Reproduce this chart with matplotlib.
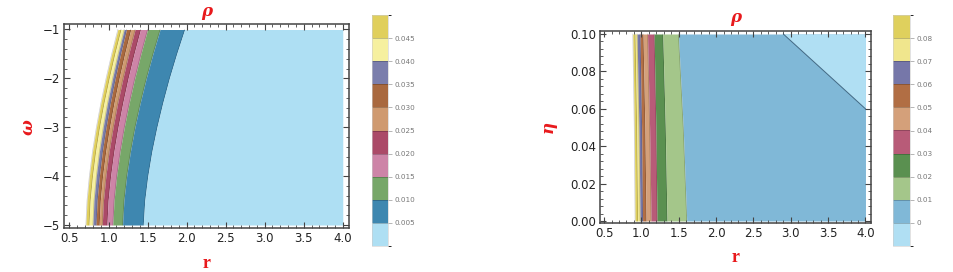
import matplotlib
matplotlib.use("Agg")
import matplotlib.pyplot as plt
from matplotlib.colors import ListedColormap, BoundaryNorm
from matplotlib.colorbar import ColorbarBase
from matplotlib.ticker import MultipleLocator, AutoMinorLocator

# ---- left panel: rho(r, omega) ----
omega = [-5.0, -4.5, -4.0, -3.5, -3.0, -2.5, -2.0, -1.5, -1.0]
levels_l = [0.0, 0.005, 0.010, 0.015, 0.020, 0.025, 0.030, 0.035, 0.040, 0.045, 0.050]
# r where rho crosses each level, outermost (0.050) first, sampled at omega
r_edges_l = [
    [0.710, 0.725, 0.755, 0.795, 0.845, 0.903, 0.969, 1.041, 1.120],  # 0.050
    [0.750, 0.765, 0.795, 0.835, 0.885, 0.943, 1.009, 1.081, 1.160],  # 0.045
    [0.800, 0.814, 0.844, 0.883, 0.932, 0.988, 1.052, 1.123, 1.200],  # 0.040
    [0.840, 0.854, 0.883, 0.921, 0.969, 1.024, 1.086, 1.155, 1.230],  # 0.035
    [0.880, 0.895, 0.924, 0.964, 1.014, 1.071, 1.136, 1.207, 1.285],  # 0.030
    [0.920, 0.935, 0.966, 1.007, 1.059, 1.118, 1.185, 1.259, 1.340],  # 0.025
    [0.980, 0.995, 1.027, 1.069, 1.122, 1.183, 1.251, 1.327, 1.410],  # 0.020
    [1.055, 1.071, 1.104, 1.148, 1.202, 1.265, 1.336, 1.415, 1.500],  # 0.015
    [1.180, 1.197, 1.232, 1.280, 1.338, 1.406, 1.483, 1.568, 1.660],  # 0.010
    [1.445, 1.464, 1.503, 1.555, 1.620, 1.695, 1.779, 1.873, 1.975],  # 0.005
]
colors_l = ["#aedff3", "#3e87b0", "#77a769", "#cd84a7", "#ab4a68",
            "#cf9a70", "#a9693f", "#7b7eac", "#f6f09f", "#e0cf5c"]

# ---- right panel: rho(r, eta) ----
eta = [0.0, 0.05, 0.10]
levels_r = [-0.01, 0.0, 0.01, 0.02, 0.03, 0.04, 0.05, 0.06, 0.07, 0.08, 0.09]
r_edges_r = [
    [0.916, 0.905, 0.885],  # 0.09
    [0.950, 0.937, 0.915],  # 0.08
    [0.983, 0.967, 0.942],  # 0.07
    [1.016, 1.003, 0.982],  # 0.06
    [1.063, 1.047, 1.022],  # 0.05
    [1.130, 1.110, 1.082],  # 0.04
    [1.210, 1.194, 1.170],  # 0.03
    [1.343, 1.320, 1.286],  # 0.02
    [1.607, 1.560, 1.495],  # 0.01
]
r_zero = [2.9, 4.0]      # rho = 0 contour
eta_zero = [0.10, 0.06]
colors_r = ["#b0dff3", "#80b8d7", "#a4c68a", "#5a9050", "#b85b78",
            "#d4a07a", "#b16e44", "#7677a9", "#f0e68d", "#dfd05d"]

r_max = 4.0
red = "#e8191c"
W, H = 954, 272

fig = plt.figure(figsize=(W / 100, H / 100), dpi=100)

def box(x0, x1, y0, y1):
    return [x0 / W, 1 - y1 / H, (x1 - x0) / W, (y1 - y0) / H]

ax1 = fig.add_axes(box(64, 349, 24, 228))
ax2 = fig.add_axes(box(600, 871, 31, 223))
cax1 = fig.add_axes(box(372, 388, 15, 246))
cax2 = fig.add_axes(box(893, 910, 15, 246))

# left fills
n = len(r_edges_l)
for k in range(n - 1):
    ax1.fill_betweenx(omega, r_edges_l[k], r_edges_l[k + 1], color=colors_l[9 - k], lw=0)
ax1.fill_betweenx(omega, r_edges_l[-1], [r_max] * len(omega), color=colors_l[0], lw=0)
for e in r_edges_l:
    ax1.plot(e, omega, color="k", alpha=0.2, lw=0.5)

# right fills
n = len(r_edges_r)
for k in range(n - 1):
    ax2.fill_betweenx(eta, r_edges_r[k], r_edges_r[k + 1], color=colors_r[9 - k], lw=0)
ax2.fill_betweenx(eta, r_edges_r[-1], [r_max] * len(eta), color=colors_r[1], lw=0)
ax2.fill_between(r_zero, eta_zero, [max(eta)] * len(r_zero), color=colors_r[0], lw=0)
for e in r_edges_r:
    ax2.plot(e, eta, color="k", alpha=0.2, lw=0.5)
ax2.plot(r_zero, eta_zero, color="#1f3f5a", alpha=0.7, lw=0.7)

ax1.set_xlim(0.43, 4.08)
ax1.set_ylim(-5.061, -0.8875)
ax2.set_xlim(0.446, 4.074)
ax2.set_ylim(-0.00107, 0.1016)

for ax in (ax1, ax2):
    ax.xaxis.set_major_locator(MultipleLocator(0.5))
    ax.xaxis.set_minor_locator(AutoMinorLocator(5))
    ax.yaxis.set_minor_locator(AutoMinorLocator(5))
    ax.tick_params(which="both", direction="in", top=True, right=True,
                   color="#444444", labelsize=8.5, labelcolor="#222222", pad=3)
    ax.tick_params(which="major", length=4, width=0.8)
    ax.tick_params(which="minor", length=2, width=0.6)
    for s in ax.spines.values():
        s.set_color("#444444")
        s.set_linewidth(1.1)
ax1.yaxis.set_major_locator(MultipleLocator(1))
ax1.xaxis.set_major_formatter(plt.FuncFormatter(lambda v, p: f"{v:.1f}"))
ax1.yaxis.set_major_formatter(plt.FuncFormatter(lambda v, p: f"\u2212{abs(v):.0f}" if v < 0 else f"{v:.0f}"))
ax2.yaxis.set_major_locator(MultipleLocator(0.02))
ax2.xaxis.set_major_formatter(plt.FuncFormatter(lambda v, p: f"{v:.1f}"))
ax2.yaxis.set_major_formatter(plt.FuncFormatter(lambda v, p: f"{v:.2f}"))

# colorbars
def colorbar(cax, colors, levels, fmt):
    cmap = ListedColormap(colors)
    norm = BoundaryNorm(levels, cmap.N)
    cb = ColorbarBase(cax, cmap=cmap, norm=norm, boundaries=levels,
                      spacing="uniform", ticks=levels[1:-1], drawedges=True)
    cb.set_ticklabels([fmt(v) for v in levels[1:-1]])
    cb.outline.set_edgecolor("#cccccc")
    cb.outline.set_linewidth(0.4)
    cb.dividers.set_color("#00000040")
    cb.dividers.set_linewidth(0.6)
    cax.tick_params(length=3, width=0.5, color="#999999", labelsize=5.2,
                    labelcolor="#777777", pad=2)

colorbar(cax1, colors_l, levels_l, lambda v: f"{v:.3f}")
colorbar(cax2, colors_r, levels_r, lambda v: f"{v:g}")

# labels
tkw = dict(color=red, fontweight="bold", ha="center", va="center")
fig.text(206.5 / W, 1 - 12 / H, "\u03c1", family="DejaVu Serif", style="italic", fontsize=12, **tkw)
fig.text(735.5 / W, 1 - 17 / H, "\u03c1", family="DejaVu Serif", style="italic", fontsize=12, **tkw)
fig.text(206.5 / W, 1 - 263 / H, "r", family="Liberation Serif", fontsize=13, **tkw)
fig.text(735.5 / W, 1 - 258 / H, "r", family="Liberation Serif", fontsize=13, **tkw)
fig.text(28 / W, 1 - 127 / H, "\u03c9", family="DejaVu Serif", style="italic", fontsize=12, rotation=90, **tkw)
fig.text(548 / W, 1 - 127 / H, "\u03b7", family="DejaVu Serif", style="italic", fontsize=12, rotation=90, **tkw)

fig.savefig("out.png", dpi=100)
